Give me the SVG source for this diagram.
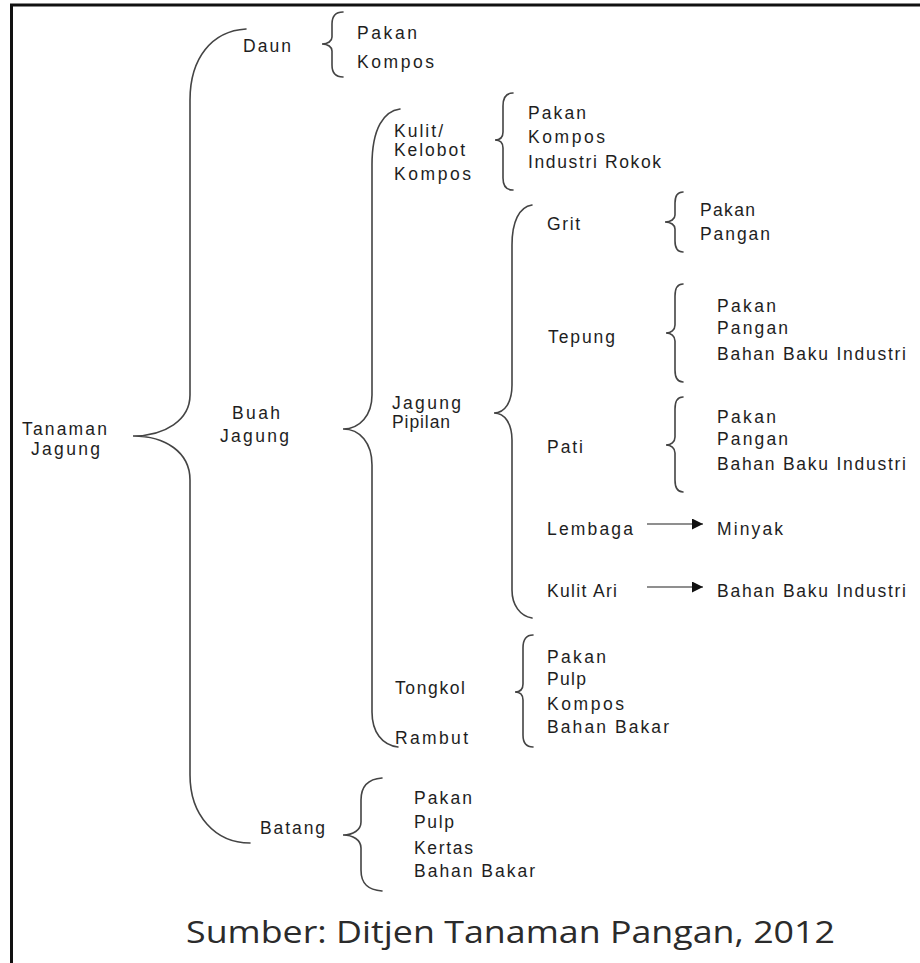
<svg xmlns="http://www.w3.org/2000/svg" width="920" height="963" viewBox="0 0 920 963">
  <style>
    .t { font-family: "Liberation Sans", Arial, sans-serif; font-size: 17.5px; fill: #1e1e1e; }
    .br { fill: none; stroke: #444; stroke-width: 1.6; stroke-linecap: round; }
    .arr { fill: none; stroke: #6a6a6a; stroke-width: 1.6; }
    .src { font-family: "Open Sans", "Noto Sans", sans-serif; font-size: 31px; fill: #2b2b2b; }
  </style>
  <defs>
    <marker id="head" viewBox="0 0 10 10" refX="10" refY="5" markerWidth="11" markerHeight="11" markerUnits="userSpaceOnUse" orient="auto">
      <path d="M0,0 L10,5 L0,10 Z" fill="#111"/>
    </marker>
  </defs>

  <rect width="920" height="963" fill="#ffffff"/>
  <!-- frame -->
  <path d="M11.5,963 L11.5,5 L920,5" fill="none" stroke="#111" stroke-width="3"/>

  <!-- connectors: braces and arrows -->
  <g id="connectors">
    <!-- Tanaman Jagung -->
    <path class="br" d="M246,29 C212,31 190,58 190,100 L190,395 C190,420 165,436 133,436 C165,436 190,452 190,480 L190,775 C190,815 215,843 250,843"/>
    <!-- Buah Jagung -->
    <path class="br" d="M400,109 C384,111 372,128 372,165 L372,395 C372,415 360,429 343,429 C360,429 372,443 372,465 L372,712 C372,732 382,745 398,747"/>
    <!-- Jagung Pipilan -->
    <path class="br" d="M532,205 C519,207 512,222 512,245 L512,385 C512,402 505,413 494,413 C505,413 512,424 512,440 L512,590 C512,605 520,616 532,618"/>
    <!-- Daun -->
    <path class="br" d="M343,12 C336,12 332,16 332,24 L332,37 C332,41 328,44 322,44 C328,44 332,47 332,51 L332,65 C332,73 336,77 343,77"/>
    <!-- Kulit / Kelobot -->
    <path class="br" d="M513,93 C506,93 503,97 503,106 L503,132 C503,137 500,140 495,140 C500,140 503,143 503,148 L503,178 C503,186 506,190 513,190"/>
    <!-- Grit -->
    <path class="br" d="M683,192 C678,192 675,196 675,203 L675,215 C675,219 671,222 665,222 C671,222 675,225 675,229 L675,241 C675,248 678,252 683,252"/>
    <!-- Tepung -->
    <path class="br" d="M683,284 C678,284 675,288 675,296 L675,325 C675,330 671,333 666,333 C671,333 675,336 675,341 L675,370 C675,378 678,382 683,382"/>
    <!-- Pati -->
    <path class="br" d="M683,397 C678,397 675,401 675,409 L675,437 C675,442 671,445 666,445 C671,445 675,448 675,453 L675,480 C675,488 678,492 683,492"/>
    <!-- Tongkol / Rambut -->
    <path class="br" d="M533,635 C526,635 523,640 523,648 L523,684 C523,689 520,692 515,692 C520,692 523,695 523,700 L523,735 C523,743 526,747 533,747"/>
    <!-- Batang -->
    <path class="br" d="M382,778 C368,779 361,786 361,800 L361,822 C361,830 353,835 343,835 C353,835 361,840 361,848 L361,870 C361,884 368,890 382,891"/>
    <!-- Lembaga -> Minyak -->
    <line class="arr" x1="647" y1="524" x2="703" y2="524" marker-end="url(#head)"/>
    <!-- Kulit Ari -> Bahan Baku Industri -->
    <line class="arr" x1="647" y1="587" x2="703" y2="587" marker-end="url(#head)"/>
  </g>

  <!-- nodes -->
  <g id="tanaman-jagung">
    <text class="t" x="22" y="435" textLength="85" lengthAdjust="spacing">Tanaman</text>
    <text class="t" x="31" y="455" textLength="69" lengthAdjust="spacing">Jagung</text>
  </g>

  <g id="daun">
    <text class="t" x="243" y="52" textLength="48" lengthAdjust="spacing">Daun</text>
  </g>
  <g id="daun-uses">
    <text class="t" x="357" y="39" textLength="60" lengthAdjust="spacing">Pakan</text>
    <text class="t" x="357" y="68" textLength="77" lengthAdjust="spacing">Kompos</text>
  </g>

  <g id="buah-jagung">
    <text class="t" x="232" y="419" textLength="48" lengthAdjust="spacing">Buah</text>
    <text class="t" x="220" y="442" textLength="69" lengthAdjust="spacing">Jagung</text>
  </g>

  <g id="kulit-kelobot">
    <text class="t" x="394" y="137" textLength="49" lengthAdjust="spacing">Kulit/</text>
    <text class="t" x="394" y="156" textLength="71" lengthAdjust="spacing">Kelobot</text>
    <text class="t" x="394" y="180" textLength="77" lengthAdjust="spacing">Kompos</text>
  </g>
  <g id="kulit-uses">
    <text class="t" x="528" y="119" textLength="58" lengthAdjust="spacing">Pakan</text>
    <text class="t" x="528" y="143" textLength="77" lengthAdjust="spacing">Kompos</text>
    <text class="t" x="528" y="168" textLength="133" lengthAdjust="spacing">Industri Rokok</text>
  </g>

  <g id="jagung-pipilan">
    <text class="t" x="392" y="409" textLength="69" lengthAdjust="spacing">Jagung</text>
    <text class="t" x="392" y="428" textLength="58" lengthAdjust="spacing">Pipilan</text>
  </g>

  <g id="grit">
    <text class="t" x="547" y="230" textLength="33" lengthAdjust="spacing">Grit</text>
  </g>
  <g id="grit-uses">
    <text class="t" x="700" y="216" textLength="55" lengthAdjust="spacing">Pakan</text>
    <text class="t" x="700" y="240" textLength="70" lengthAdjust="spacing">Pangan</text>
  </g>

  <g id="tepung">
    <text class="t" x="548" y="343" textLength="67" lengthAdjust="spacing">Tepung</text>
  </g>
  <g id="tepung-uses">
    <text class="t" x="717" y="312" textLength="59" lengthAdjust="spacing">Pakan</text>
    <text class="t" x="717" y="334" textLength="71" lengthAdjust="spacing">Pangan</text>
    <text class="t" x="717" y="360" textLength="189" lengthAdjust="spacing">Bahan Baku Industri</text>
  </g>

  <g id="pati">
    <text class="t" x="547" y="453" textLength="36" lengthAdjust="spacing">Pati</text>
  </g>
  <g id="pati-uses">
    <text class="t" x="717" y="423" textLength="59" lengthAdjust="spacing">Pakan</text>
    <text class="t" x="717" y="445" textLength="71" lengthAdjust="spacing">Pangan</text>
    <text class="t" x="717" y="470" textLength="189" lengthAdjust="spacing">Bahan Baku Industri</text>
  </g>

  <g id="lembaga">
    <text class="t" x="547" y="535" textLength="86" lengthAdjust="spacing">Lembaga</text>
  </g>
  <g id="minyak">
    <text class="t" x="717" y="535" textLength="66" lengthAdjust="spacing">Minyak</text>
  </g>

  <g id="kulit-ari">
    <text class="t" x="547" y="597" textLength="70" lengthAdjust="spacing">Kulit Ari</text>
  </g>
  <g id="kulit-ari-use">
    <text class="t" x="717" y="597" textLength="189" lengthAdjust="spacing">Bahan Baku Industri</text>
  </g>

  <g id="tongkol-rambut">
    <text class="t" x="395" y="694" textLength="70" lengthAdjust="spacing">Tongkol</text>
    <text class="t" x="395" y="744" textLength="73" lengthAdjust="spacing">Rambut</text>
  </g>
  <g id="tongkol-uses">
    <text class="t" x="547" y="663" textLength="59" lengthAdjust="spacing">Pakan</text>
    <text class="t" x="547" y="685" textLength="39" lengthAdjust="spacing">Pulp</text>
    <text class="t" x="547" y="710" textLength="77" lengthAdjust="spacing">Kompos</text>
    <text class="t" x="547" y="733" textLength="122" lengthAdjust="spacing">Bahan Bakar</text>
  </g>

  <g id="batang">
    <text class="t" x="260" y="834" textLength="65" lengthAdjust="spacing">Batang</text>
  </g>
  <g id="batang-uses">
    <text class="t" x="414" y="804" textLength="58" lengthAdjust="spacing">Pakan</text>
    <text class="t" x="414" y="828" textLength="40" lengthAdjust="spacing">Pulp</text>
    <text class="t" x="414" y="854" textLength="59" lengthAdjust="spacing">Kertas</text>
    <text class="t" x="414" y="877" textLength="121" lengthAdjust="spacing">Bahan Bakar</text>
  </g>

  <g id="source">
    <text class="src" x="186" y="943" textLength="649" lengthAdjust="spacingAndGlyphs">Sumber: Ditjen Tanaman Pangan, 2012</text>
  </g>
</svg>
